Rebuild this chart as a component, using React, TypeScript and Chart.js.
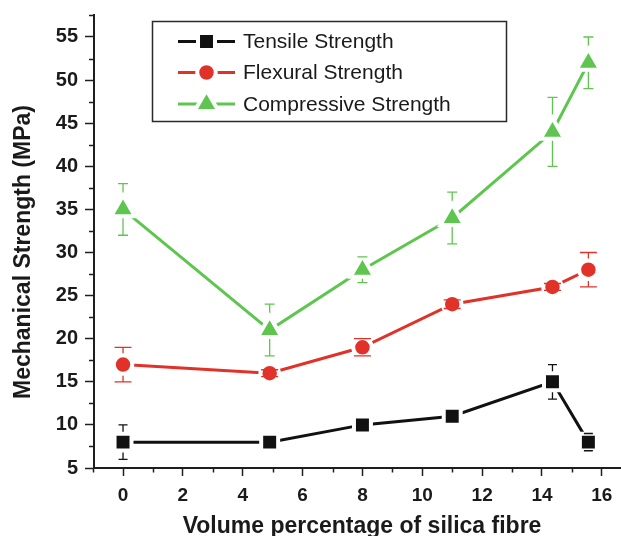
import React, { useEffect, useRef } from 'react';
import { Chart, registerables } from 'chart.js';

Chart.register(...registerables);

// ---- data ----
const xValues = [0, 4.9, 8, 11, 14.35, 15.55];
const tensile = [8, 8, 10, 11, 15, 8];
const tensileErr = [2, 0.3, 0.4, 0.5, 2, 1];
const flexural = [17, 16, 19, 24, 26, 28];
const flexuralErr = [2, 0.4, 1, 0.5, 0.4, 2];
const compressive = [35, 21, 28, 34, 44, 52];
const compressiveErr = [3, 3, 1.5, 3, 4, 3];

const seriesNames = ['Tensile Strength', 'Flexural Strength', 'Compressive Strength'];
const xTicks = [0, 2, 4, 6, 8, 10, 12, 14, 16];
const yTicks = [5, 10, 15, 20, 25, 30, 35, 40, 45, 50, 55];
const xMinorTicks = [-1, 1, 3, 5, 7, 9, 11, 13, 15];
const yMinorTicks = [7.5, 12.5, 17.5, 22.5, 27.5, 32.5, 37.5, 42.5, 47.5, 52.5, 57.5];
const xTitle = 'Volume percentage of silica fibre';
const yTitle = 'Mechanical Strength (MPa)';

const BLACK = '#111111';
const RED = '#e1322a';
const GREEN = '#5ec64f';
const AXIS = '#1e1e1e';
const TEXT = '#1a1a1a';
const HALO = 4;

const styles = [
  { color: BLACK, point: 'rect', radius: 12, cap: 4.5 },
  { color: RED, point: 'circle', radius: 9.25, cap: 8.5 },
  { color: GREEN, point: 'triangle', radius: 13.8, cap: 5 },
];

function drawMarker(ctx: CanvasRenderingContext2D, style: string, x: number, y: number, r: number, color: string) {
  ctx.beginPath();
  if (style === 'rect') {
    const s = Math.SQRT1_2 * r;
    ctx.rect(x - s, y - s, 2 * s, 2 * s);
  } else if (style === 'circle') {
    ctx.arc(x, y, r, 0, Math.PI * 2);
  } else {
    let rad = 0;
    ctx.moveTo(x + Math.sin(rad) * r, y - Math.cos(rad) * r);
    rad += (2 * Math.PI) / 3;
    ctx.lineTo(x + Math.sin(rad) * r, y - Math.cos(rad) * r);
    rad += (2 * Math.PI) / 3;
    ctx.lineTo(x + Math.sin(rad) * r, y - Math.cos(rad) * r);
  }
  ctx.closePath();
  ctx.fillStyle = color;
  ctx.fill();
  ctx.lineWidth = HALO;
  ctx.strokeStyle = '#ffffff';
  ctx.stroke();
}

function drawErrorParts(chart: any, stems: boolean) {
  const ctx = chart.ctx;
  const xs = chart.scales.x;
  const ys = chart.scales.y;
  chart.data.datasets.forEach((ds: any) => {
    ctx.save();
    ctx.strokeStyle = ds.borderColor;
    ctx.lineWidth = 1.3;
    ds.data.forEach((p: any, j: number) => {
      const e = ds.errors[j];
      const x = xs.getPixelForValue(p.x);
      const y1 = ys.getPixelForValue(p.y + e);
      const y2 = ys.getPixelForValue(p.y - e);
      const c = ds.capHalf;
      ctx.beginPath();
      if (stems) {
        ctx.moveTo(x, y1);
        ctx.lineTo(x, y2);
      } else {
        ctx.moveTo(x - c, y1);
        ctx.lineTo(x + c, y1);
        ctx.moveTo(x - c, y2);
        ctx.lineTo(x + c, y2);
      }
      ctx.stroke();
    });
    ctx.restore();
  });
}

const errorBarPlugin = {
  id: 'errorBars',
  beforeDatasetsDraw(chart: any) {
    drawErrorParts(chart, true);
  },
  afterDatasetsDraw(chart: any) {
    drawErrorParts(chart, false);
  },
};

const decorPlugin = {
  id: 'decor',
  afterDraw(chart: any) {
    const ctx = chart.ctx;
    const xs = chart.scales.x;
    const ys = chart.scales.y;
    const area = chart.chartArea;
    ctx.save();
    // minor ticks
    ctx.strokeStyle = AXIS;
    ctx.lineWidth = 1.5;
    ctx.beginPath();
    xMinorTicks.forEach((v) => {
      const x = Math.round(xs.getPixelForValue(v)) + 0.5;
      ctx.moveTo(x, area.bottom);
      ctx.lineTo(x, area.bottom + 4.5);
    });
    yMinorTicks.forEach((v) => {
      const y = Math.round(ys.getPixelForValue(v)) + 0.5;
      ctx.moveTo(area.left, y);
      ctx.lineTo(area.left - 5, y);
    });
    ctx.stroke();

    // axis titles
    ctx.fillStyle = TEXT;
    ctx.font = 'bold 23px "Liberation Sans", Arial, sans-serif';
    ctx.textAlign = 'center';
    ctx.textBaseline = 'alphabetic';
    ctx.fillText(xTitle, 362, 533);
    ctx.save();
    ctx.translate(24, 252);
    ctx.rotate(-Math.PI / 2);
    ctx.textBaseline = 'middle';
    ctx.fillText(yTitle, 0, 0);
    ctx.restore();

    // legend
    ctx.strokeStyle = '#2a2a2a';
    ctx.lineWidth = 1.5;
    ctx.strokeRect(152.5, 21.5, 354, 100);
    const rows = [41.5, 72.5, 104];
    chart.data.datasets.forEach((ds: any, i: number) => {
      const y = rows[i];
      ctx.strokeStyle = ds.borderColor;
      ctx.lineWidth = 3;
      ctx.beginPath();
      ctx.moveTo(178, y);
      ctx.lineTo(235, y);
      ctx.stroke();
      drawMarker(ctx, styles[i].point, 206.5, y, styles[i].radius, ds.borderColor);
      ctx.fillStyle = TEXT;
      ctx.font = '21px "Liberation Sans", Arial, sans-serif';
      ctx.textAlign = 'left';
      ctx.textBaseline = 'middle';
      ctx.fillText(ds.label, 243, y + 1);
    });
    ctx.restore();
  },
};

function makeDataset(i: number, values: number[], errs: number[]) {
  const s = styles[i];
  return {
    label: seriesNames[i],
    data: xValues.map((x, j) => ({ x, y: values[j] })),
    errors: errs,
    capHalf: s.cap,
    borderColor: s.color,
    backgroundColor: s.color,
    borderWidth: 3,
    tension: 0,
    pointStyle: s.point,
    pointRadius: s.radius,
    pointHoverRadius: s.radius,
    pointBackgroundColor: s.color,
    pointBorderColor: '#ffffff',
    pointBorderWidth: HALO,
    fill: false,
    clip: false,
  };
}

export default function App() {
  const canvasRef = useRef<HTMLCanvasElement>(null);

  useEffect(() => {
    document.body.style.margin = '0';
    document.body.style.overflow = 'hidden';
    const canvas = canvasRef.current;
    if (!canvas) return;
    const chart = new Chart(canvas, {
      type: 'line',
      data: {
        datasets: [
          makeDataset(0, tensile, tensileErr),
          makeDataset(1, flexural, flexuralErr),
          makeDataset(2, compressive, compressiveErr),
        ] as any,
      },
      options: {
        animation: false,
        responsive: false,
        devicePixelRatio: 1,
        events: [],
        layout: { autoPadding: false, padding: { top: 15, left: 0, right: 0, bottom: 0 } },
        plugins: {
          legend: { display: false },
          tooltip: { enabled: false },
          title: { display: false },
        },
        scales: {
          x: {
            type: 'linear',
            min: -0.97,
            max: 16.64,
            afterBuildTicks: (scale: any) => {
              scale.ticks = xTicks.map((v) => ({ value: v }));
            },
            afterFit: (scale: any) => {
              scale.height = 68;
              scale.paddingLeft = 0;
              scale.paddingRight = 0;
            },
            grid: {
              display: true,
              drawOnChartArea: false,
              drawTicks: true,
              tickLength: 8,
              tickColor: AXIS,
              tickWidth: 1.5,
            },
            border: { display: true, color: AXIS, width: 2 },
            ticks: {
              color: TEXT,
              padding: 8,
              maxRotation: 0,
              autoSkip: false,
              font: { family: '"Liberation Sans", Arial, sans-serif', size: 19, weight: 'bold' },
              callback: (v: any) => String(v),
            },
          },
          y: {
            type: 'linear',
            min: 5,
            max: 57.55,
            afterBuildTicks: (scale: any) => {
              scale.ticks = yTicks.map((v) => ({ value: v }));
            },
            afterFit: (scale: any) => {
              scale.width = 94;
              scale.paddingTop = 0;
              scale.paddingBottom = 0;
            },
            grid: {
              display: true,
              drawOnChartArea: false,
              drawTicks: true,
              tickLength: 9,
              tickColor: AXIS,
              tickWidth: 1.5,
            },
            border: { display: true, color: AXIS, width: 2 },
            ticks: {
              color: TEXT,
              padding: 7,
              autoSkip: false,
              font: { family: '"Liberation Sans", Arial, sans-serif', size: 20, weight: 'bold' },
              callback: (v: any) => String(v),
            },
          },
        },
      } as any,
      plugins: [errorBarPlugin, decorPlugin],
    });
    return () => chart.destroy();
  }, []);

  return (
    <div style={{ width: 621, height: 536, position: 'relative' }}>
      <canvas ref={canvasRef} width={621} height={536} style={{ display: 'block' }} />
    </div>
  );
}
